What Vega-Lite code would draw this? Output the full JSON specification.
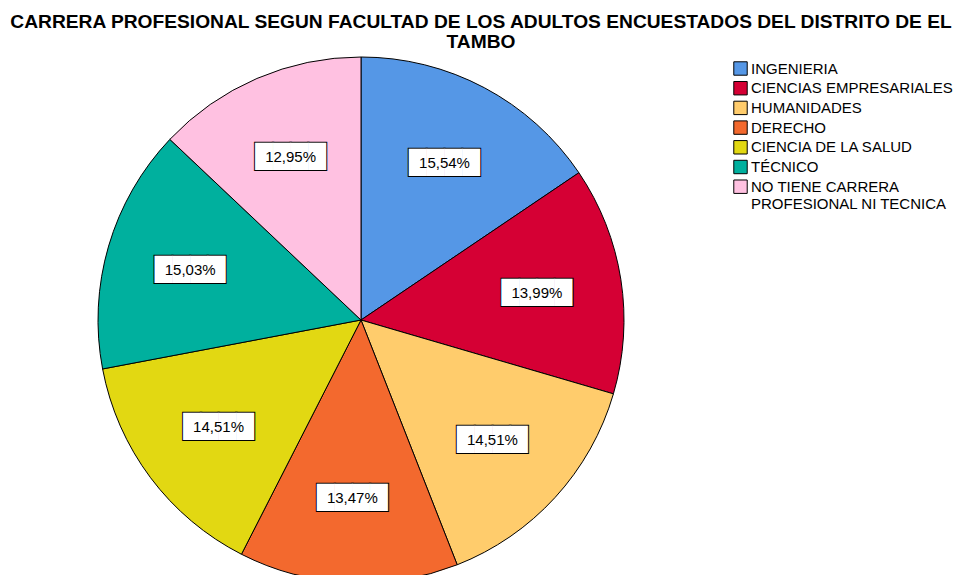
{
  "$schema": "https://vega.github.io/schema/vega-lite/v6.json",
  "autosize": {"type": "none"},
  "width": 526,
  "height": 526,
  "padding": {"left": 98, "top": 57, "right": 337, "bottom": 0},
  "background": "white",
  "config": {"view": {"stroke": null}},
  "title": {
    "text": ["CARRERA PROFESIONAL SEGUN FACULTAD DE LOS ADULTOS ENCUESTADOS DEL DISTRITO DE EL", "TAMBO"],
    "font": "Liberation Sans",
    "fontSize": 19.2,
    "fontWeight": "bold",
    "color": "black",
    "anchor": "middle",
    "dx": 120,
    "offset": 3,
    "lineHeight": 19.5
  },
  "data": {
    "values": [
      {"carrera": "INGENIERIA", "pct": 15.54, "etiqueta": "15,54%", "orden": 1},
      {"carrera": "CIENCIAS EMPRESARIALES", "pct": 13.99, "etiqueta": "13,99%", "orden": 2},
      {"carrera": "HUMANIDADES", "pct": 14.51, "etiqueta": "14,51%", "orden": 3},
      {"carrera": "DERECHO", "pct": 13.47, "etiqueta": "13,47%", "orden": 4},
      {"carrera": "CIENCIA DE LA SALUD", "pct": 14.51, "etiqueta": "14,51%", "orden": 5},
      {"carrera": "TÉCNICO", "pct": 15.03, "etiqueta": "15,03%", "orden": 6},
      {"carrera": "NO TIENE CARRERA PROFESIONAL NI TECNICA", "pct": 12.95, "etiqueta": "12,95%", "orden": 7}
    ]
  },
  "encoding": {
    "theta": {"field": "pct", "type": "quantitative", "stack": true},
    "order": {"field": "orden", "type": "quantitative"}
  },
  "layer": [
    {
      "mark": {"type": "arc", "stroke": "black", "strokeWidth": 1, "outerRadius": 263},
      "encoding": {
        "color": {
          "field": "carrera",
          "type": "nominal",
          "sort": ["INGENIERIA", "CIENCIAS EMPRESARIALES", "HUMANIDADES", "DERECHO", "CIENCIA DE LA SALUD", "TÉCNICO", "NO TIENE CARRERA PROFESIONAL NI TECNICA"],
          "scale": {
            "domain": ["INGENIERIA", "CIENCIAS EMPRESARIALES", "HUMANIDADES", "DERECHO", "CIENCIA DE LA SALUD", "TÉCNICO", "NO TIENE CARRERA PROFESIONAL NI TECNICA"],
            "range": ["#5597E6", "#D50034", "#FFCC6C", "#F3692E", "#E2D812", "#00B09E", "#FFC1E1"]
          },
          "legend": {
            "title": null,
            "orient": "none",
            "legendX": 635,
            "legendY": 4,
            "symbolType": "square",
            "symbolSize": 180,
            "symbolStrokeColor": "black",
            "symbolStrokeWidth": 1,
            "symbolOpacity": 1,
            "labelFont": "Liberation Sans",
            "labelFontSize": 15,
            "labelColor": "black",
            "labelLimit": 300,
            "labelOffset": 3,
            "rowPadding": 0.7,
            "labelExpr": "datum.label == 'NO TIENE CARRERA PROFESIONAL NI TECNICA' ? ['NO TIENE CARRERA', 'PROFESIONAL NI TECNICA'] : datum.label"
          }
        }
      }
    },
    {
      "mark": {"type": "text", "text": "████", "font": "DejaVu Sans", "fontSize": 23, "color": "black", "stroke": "black", "strokeWidth": 2, "baseline": "middle", "align": "center"},
      "encoding": {"radius": {"value": 178}}
    },
    {
      "mark": {"type": "text", "text": "████", "font": "DejaVu Sans", "fontSize": 23, "color": "white", "baseline": "middle", "align": "center"},
      "encoding": {"radius": {"value": 178}}
    },
    {
      "mark": {"type": "text", "font": "Liberation Sans", "fontSize": 15, "color": "black", "baseline": "middle", "align": "center"},
      "encoding": {"radius": {"value": 178}, "text": {"field": "etiqueta"}}
    }
  ]
}
